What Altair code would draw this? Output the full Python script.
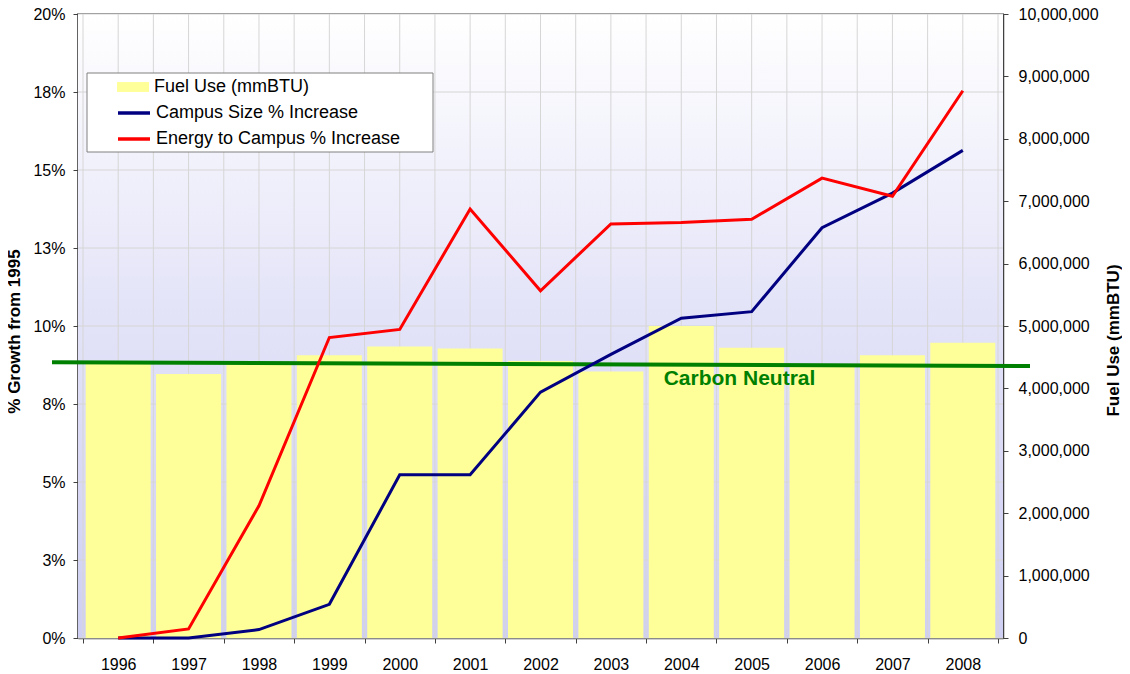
import altair as alt
import pandas as pd

# ---------------- data ----------------
years = [1996, 1997, 1998, 1999, 2000, 2001, 2002, 2003, 2004, 2005, 2006, 2007, 2008]
campus_pct = [0.0, 0.0, 0.27, 1.08, 5.23, 5.23, 7.88, 9.09, 10.25, 10.46, 13.15, 14.26, 15.63]
energy_pct = [0.0, 0.29, 4.24, 9.63, 9.89, 13.75, 11.13, 13.27, 13.32, 13.42, 14.74, 14.16, 17.54]
fuel_use = [4400000, 4230000, 4400000, 4530000, 4670000, 4640000, 4440000,
            4270000, 5000000, 4650000, 4370000, 4530000, 4730000]

pct_ticks = [0, 2.5, 5, 7.5, 10, 12.5, 15, 17.5, 20]
pct_labels = ["0%", "3%", "5%", "8%", "10%", "13%", "15%", "18%", "20%"]
fuel_ticks = [0, 1000000, 2000000, 3000000, 4000000, 5000000,
              6000000, 7000000, 8000000, 9000000, 10000000]

carbon_neutral = [4420000, 4360000]          # start / end level (mmBTU)
carbon_label = ["Carbon Neutral"]
carbon_label_pos = [2003.75, 4150000]

series_fuel = "Fuel Use (mmBTU)"
series_campus = "Campus Size % Increase"
series_energy = "Energy to Campus % Increase"

FONT = "Liberation Sans, Arial, sans-serif"
W, H = 925, 624
GRID = "#D6D6D6"
AXC = "#404040"

df = pd.DataFrame({"Year": years, series_campus: campus_pct,
                   series_energy: energy_pct, "fuel": fuel_use})

x_vals = sorted([y - 0.5 for y in years] + years + [years[-1] + 0.5])
x_scale = alt.Scale(domain=[years[0] - 0.5, years[-1] + 0.5], nice=False, zero=False)
x_axis = alt.Axis(values=x_vals, grid=False,
                  labelExpr="datum.value % 1 === 0 ? toString(datum.value) : ''",
                  labelOverlap=False, labelFontSize=16, labelPadding=13,
                  tickSize=5, tickColor=AXC, domainColor=AXC, domainWidth=1.5,
                  tickOpacity={"condition": {"test": "datum.value % 1 === 0", "value": 0},
                               "value": 1})

fuel_scale = alt.Scale(domain=[0, 10000000], nice=False)
fuel_axis = alt.Axis(orient="right", values=fuel_ticks, format=",d", grid=False,
                     labelFontSize=16, labelPadding=10, tickSize=5, tickColor=AXC,
                     domainColor=AXC, domainWidth=1.5,
                     titleFontSize=17, titleFontWeight="bold", titlePadding=7,
                     titleAngle=270, titleBaseline="top", titleY=326)

pct_label_expr = ("[" + ",".join("'%s'" % s for s in pct_labels) + "][indexof(["
                  + ",".join(str(v) for v in pct_ticks) + "], datum.value)]")
pct_scale = alt.Scale(domain=[0, 20], nice=False)
pct_axis = alt.Axis(orient="left", values=pct_ticks, labelExpr=pct_label_expr,
                    grid=False,
                    labelFontSize=16, labelPadding=8, tickSize=5, tickColor=AXC,
                    domainColor=AXC, domainWidth=1.5,
                    titleFontSize=17, titleFontWeight="bold", titlePadding=9,
                    titleY=317)

# ---------------- background + grid group ----------------
bg = alt.Chart(pd.DataFrame({"k": [0]})).mark_rect(
    fill=alt.LinearGradient(gradient="linear", x1=0, x2=0, y1=0, y2=1,
                            stops=[alt.GradientStop(color="#FFFFFF", offset=0),
                                   alt.GradientStop(color="#E2E2F8", offset=0.5),
                                   alt.GradientStop(color="#CFCFF3", offset=1)])
).encode(x=alt.value(0), x2=alt.value(W), y=alt.value(0), y2=alt.value(H))

hgrid = alt.Chart(pd.DataFrame({"v": pct_ticks})).mark_rule(
    color=GRID, strokeWidth=1).encode(
    y=alt.Y("v:Q", scale=pct_scale, axis=None))

vgrid = alt.Chart(pd.DataFrame({"Year": x_vals})).mark_rule(
    color=GRID, strokeWidth=1).encode(
    x=alt.X("Year:Q", scale=x_scale, axis=x_axis, title=None))

back = alt.layer(bg, hgrid, vgrid)

# ---------------- right-axis group ----------------
bars = alt.Chart(df).transform_calculate(series="'%s'" % series_fuel).mark_bar(
    size=65).encode(
    x=alt.X("Year:Q", scale=x_scale, axis=x_axis, title=None),
    y=alt.Y("fuel:Q", scale=fuel_scale, axis=fuel_axis, title="Fuel Use (mmBTU)"),
    fill=alt.Fill("series:N", scale=alt.Scale(domain=[series_fuel], range=["#FFFF99"]),
                  legend=alt.Legend(title=None, orient="none", legendX=46, legendY=64,
                                    padding=0, symbolType="M-2,-0.62H2V0.62H-2Z",
                                    symbolSize=256, symbolStrokeWidth=0,
                                    labelFontSize=18, labelFont=FONT, labelColor="#000",
                                    labelOffset=12, labelLimit=400)),
)

cn_df = pd.DataFrame({"fuel": [carbon_neutral[0]], "end": [carbon_neutral[1]]})
rule = alt.Chart(cn_df).mark_rule(color="#008000", strokeWidth=4, clip=False).encode(
    x=alt.value(-26), x2=alt.value(952),
    y=alt.Y("fuel:Q", scale=fuel_scale, axis=fuel_axis, title="Fuel Use (mmBTU)"),
    y2="end:Q",
)

txt_df = pd.DataFrame({"label": carbon_label, "Year": [carbon_label_pos[0]],
                       "fuel": [carbon_label_pos[1]]})
text = alt.Chart(txt_df).mark_text(align="left", baseline="middle", fontSize=21,
                                   fontWeight="bold", color="#008000", font=FONT).encode(
    x=alt.X("Year:Q", scale=x_scale, axis=x_axis, title=None),
    y=alt.Y("fuel:Q", scale=fuel_scale, axis=fuel_axis, title="Fuel Use (mmBTU)"),
    text="label:N",
)

box = alt.Chart(pd.DataFrame({"k": [0]})).mark_rect(
    fill="white", stroke="#808080", strokeWidth=1).encode(
    x=alt.value(9), x2=alt.value(355), y=alt.value(59), y2=alt.value(138),
)

right = alt.layer(bars, rule, text, box)

# ---------------- left-axis group ----------------
lines = alt.Chart(df).transform_fold([series_campus, series_energy],
                                     as_=["series", "pct"]).mark_line(
    strokeWidth=3).encode(
    x=alt.X("Year:Q", scale=x_scale, axis=x_axis, title=None),
    y=alt.Y("pct:Q", scale=pct_scale, axis=pct_axis, title="% Growth from 1995"),
    stroke=alt.Stroke("series:N",
                      scale=alt.Scale(domain=[series_campus, series_energy],
                                      range=["#000080", "#FF0000"]),
                      legend=alt.Legend(title=None, orient="none", legendX=46, legendY=89,
                                        padding=0, symbolType="M-2,0H2",
                                        symbolSize=256, symbolStrokeWidth=3.5,
                                        rowPadding=7,
                                        labelFontSize=18, labelFont=FONT, labelColor="#000",
                                        labelOffset=12, labelLimit=400)),
)

chart = alt.layer(back, right, lines).resolve_scale(
    y="independent", fill="independent", stroke="independent").properties(
    width=W, height=H,
    autosize=alt.AutoSizeParams(type="none"),
    padding={"left": 70, "top": 6, "right": 119, "bottom": 36},
).configure_axis(
    labelFont=FONT, titleFont=FONT, labelColor="#000", titleColor="#000",
).configure_view(
    stroke=AXC, strokeWidth=1.5,
)

chart.save("out.html", embed_options={"renderer": "svg", "actions": False})
